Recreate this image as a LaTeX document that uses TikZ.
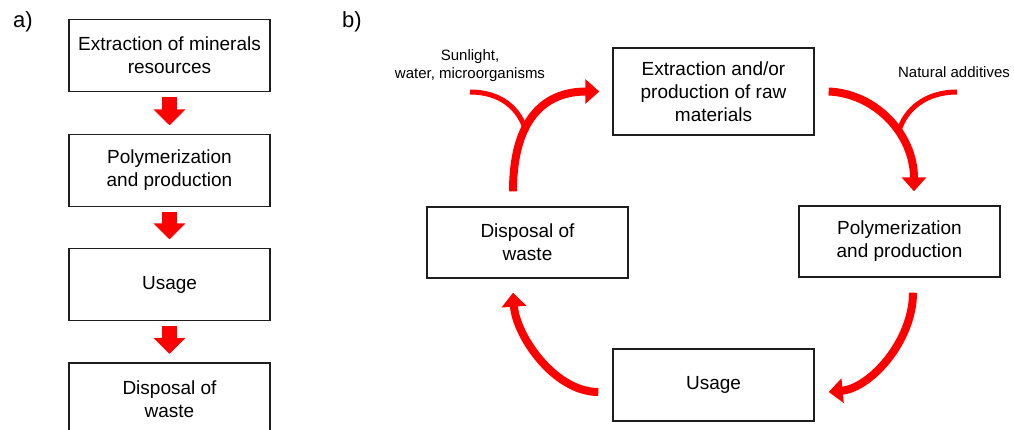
\documentclass[tikz,border=0pt]{standalone}
\usepackage{fontspec}
\setmainfont{Liberation Sans}
\usetikzlibrary{arrows.meta}
\definecolor{arrred}{RGB}{255,0,0}
\definecolor{boxline}{RGB}{30,30,30}
\begin{document}
\begin{tikzpicture}[x=1pt,y=-1pt,
  box/.style={draw=boxline, line width=1.4pt, minimum width=201pt, minimum height=72pt,
    align=center, inner sep=0pt, font=\fontsize{19}{23}\selectfont},
  blockarrow/.style={draw=arrred, line width=15pt, -{Triangle[width=31pt,length=16pt]}},
  cyclearrow/.style={draw=arrred, line width=8pt, -{Triangle[width=24pt,length=14pt]}},
  branch/.style={draw=arrred, line width=5pt},
  smalltext/.style={align=center, font=\fontsize{15}{18}\selectfont, inner sep=0pt},
  paneltext/.style={font=\fontsize{22}{26}\selectfont, inner sep=0pt}
]
\useasboundingbox (0,0) rectangle (1014,430);
\clip (0,0) rectangle (1014,430);

% panel labels
\node[paneltext] (la) at (23,22) {a)};
\node[paneltext] (lb) at (352,22) {b)};

% ---------- panel a ----------
\node[box] (a1) at (169.5,55.5) {Extraction of minerals\\resources};
\node[box] (a2) at (169.5,170.5) {Polymerization\\and production};
\node[box] (a3) at (169.5,284.5) {Usage};
\node[box] (a4) at (169.5,399) {Disposal of\\waste};

\draw[blockarrow] ([yshift=-5pt]a1.south) -- ([yshift=8.5pt]a2.north);
\draw[blockarrow] ([yshift=-5pt]a2.south) -- ([yshift=8.5pt]a3.north);
\draw[blockarrow] ([yshift=-5pt]a3.south) -- ([yshift=8.5pt]a4.north);

% ---------- panel b ----------
\node[box, minimum height=87pt] (b1) at (713.5,91.5) {Extraction and/or\\production of raw\\materials};
\node[box, minimum height=71pt] (b2) at (899.5,241.5) {Polymerization\\and production};
\node[box] (b3) at (713.5,385) {Usage};
\node[box, minimum height=71pt] (b4) at (527.5,242.5) {Disposal of\\waste};

\node[smalltext] (sun) at (470,66) {Sunlight,\\water, microorganisms};
\node[smalltext] (nat) at (954,72) {Natural additives};

% branch inputs
\coordinate (sunsrc) at (470,92);
\coordinate (sunmerge) at (526,132);
\coordinate (natsrc) at (957,92);
\coordinate (natmerge) at (899,131);
\draw[branch] (sunsrc) .. controls (500,92) and (520,108) .. (sunmerge);
\draw[branch] (natsrc) .. controls (925,92) and (905,110) .. (natmerge);

% cycle arrows
\draw[cyclearrow] ([xshift=-14.5pt,yshift=15pt]b4.north)
  .. controls +(0,-72) and +(-55,0) .. ([xshift=-13pt]b1.west);
\draw[cyclearrow] ([xshift=14pt]b1.east)
  .. controls +(47,2) and +(0,-57) .. ([xshift=14.5pt,yshift=14pt]b2.north);
\draw[cyclearrow] ([xshift=13.5pt,yshift=-15pt]b2.south)
  .. controls +(0,48) and +(42,-4) .. ([xshift=14pt,yshift=-7pt]b3.east);
\draw[cyclearrow] ([xshift=-14pt,yshift=-7pt]b3.west)
  .. controls +(-44,0) and +(3,43) .. ([xshift=-14.5pt,yshift=-14pt]b4.south);
\end{tikzpicture}
\end{document}
